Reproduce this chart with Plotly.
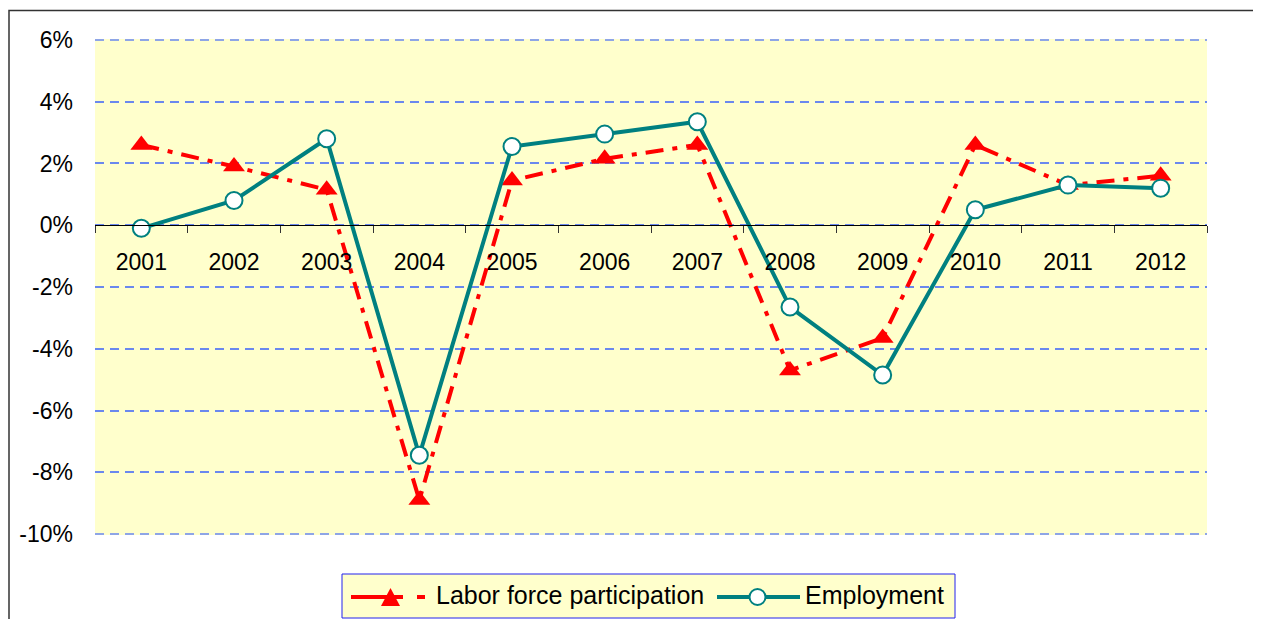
import plotly.graph_objects as go

years = ["2001", "2002", "2003", "2004", "2005", "2006", "2007", "2008", "2009", "2010", "2011", "2012"]
labor_force = [2.6, 1.9, 1.15, -8.9, 1.45, 2.15, 2.6, -4.7, -3.65, 2.6, 1.3, 1.6]
employment = [-0.1, 0.8, 2.8, -7.45, 2.55, 2.95, 3.35, -2.65, -4.85, 0.5, 1.3, 1.2]
y_ticks = [6, 4, 2, 0, -2, -4, -6, -8, -10]
y_labels = ["6%", "4%", "2%", "0%", "-2%", "-4%", "-6%", "-8%", "-10%"]
series_names = ["Labor force participation", "Employment"]

FONT = "Liberation Sans, Arial, sans-serif"
RED = "#ff0000"
TEAL = "#008080"
GRID = "#6a88ee"
GRID_DASH = "9px,6px"
LFP_DASH = "18px,9px,5px,9px"

fig = go.Figure()
fig.add_trace(go.Scatter(
    x=years, y=labor_force, name=series_names[0],
    mode="lines+markers",
    line=dict(color=RED, width=4, dash=LFP_DASH),
    marker=dict(symbol="triangle-up", size=19, color=RED),
))
fig.add_trace(go.Scatter(
    x=years, y=employment, name=series_names[1],
    mode="lines+markers",
    line=dict(color=TEAL, width=4),
    marker=dict(symbol="circle", size=17, color="#ffffff",
                line=dict(color=TEAL, width=2)),
))

# figure is offset by the 8px page margin
W, H = 1253, 611
L, R, T, B = 87, 1199, 31, 527
pw, ph = R - L, B - T


def px(xp):
    return (xp - L) / pw


def py(yp):
    return (B - yp) / ph


shapes = [
    # outer chart-area border (clipped right and bottom)
    dict(type="rect", xref="paper", yref="paper",
         x0=px(1), x1=px(W + 50), y0=py(H + 50), y1=py(2.5),
         line=dict(color="#333333", width=1.5), layer="below"),
    # legend box
    dict(type="rect", xref="paper", yref="paper",
         x0=px(334), x1=px(947), y0=py(610), y1=py(566),
         line=dict(color="#2222ee", width=1), fillcolor="#ffffcc", layer="below"),
    # legend: labor force line
    dict(type="line", xref="paper", yref="paper",
         x0=px(343), x1=px(417), y0=py(589), y1=py(589),
         line=dict(color=RED, width=4, dash="52px,14px,8px,20px")),
    # legend: triangle
    dict(type="path", xref="paper", yref="paper",
         path="M {a},{b} L {c},{b} L {d},{e} Z".format(
             a=px(373), c=px(392), b=py(598), d=px(382.5), e=py(580)),
         fillcolor=RED, line=dict(color=RED, width=0)),
    # legend: employment line
    dict(type="line", xref="paper", yref="paper",
         x0=px(709), x1=px(792), y0=py(589), y1=py(589),
         line=dict(color=TEAL, width=4)),
    # legend: circle
    dict(type="circle", xref="paper", yref="paper",
         x0=px(741.5), x1=px(757.5), y0=py(597), y1=py(581),
         fillcolor="#ffffff", line=dict(color=TEAL, width=2)),
]
# gridlines at the two range ends (plotly drops gridlines on the plot edges)
for edge in (y_ticks[0], y_ticks[-1]):
    shapes.append(dict(type="line", xref="paper", yref="y", x0=0, x1=1, y0=edge, y1=edge,
                       line=dict(color=GRID, width=1.5, dash=GRID_DASH), layer="below"))

annotations = [
    dict(xref="paper", yref="paper", x=px(426), y=py(587), xanchor="left", yanchor="middle",
         text=series_names[0], showarrow=False,
         font=dict(family=FONT, size=25, color="black")),
    dict(xref="paper", yref="paper", x=px(795), y=py(587), xanchor="left", yanchor="middle",
         text=series_names[1], showarrow=False,
         font=dict(family=FONT, size=25, color="black")),
]

fig.update_layout(
    width=W, height=H,
    margin=dict(l=L, r=W - R, t=T, b=H - B, autoexpand=False),
    paper_bgcolor="white",
    plot_bgcolor="#ffffcc",
    font=dict(family=FONT, size=23, color="black"),
    showlegend=False,
    xaxis=dict(
        type="category", range=[-0.5, 11.5],
        anchor="free", position=10.03 / 16.06,
        showline=True, linecolor="black", linewidth=1.2,
        ticks="outside", tickson="boundaries", ticklen=7, tickcolor="#333333",
        showgrid=False, zeroline=False,
        ticklabelstandoff=16,
        tickfont=dict(family=FONT, size=23, color="black"),
    ),
    yaxis=dict(
        range=[-10.03, 6.03], tickvals=y_ticks, ticktext=y_labels,
        showgrid=True, gridcolor=GRID, griddash=GRID_DASH, gridwidth=1.5,
        zeroline=False, showline=False, ticks="",
        ticklabelstandoff=21,
        tickfont=dict(family=FONT, size=23, color="black"),
    ),
    shapes=shapes,
    annotations=annotations,
)

fig.write_html("out.html")
